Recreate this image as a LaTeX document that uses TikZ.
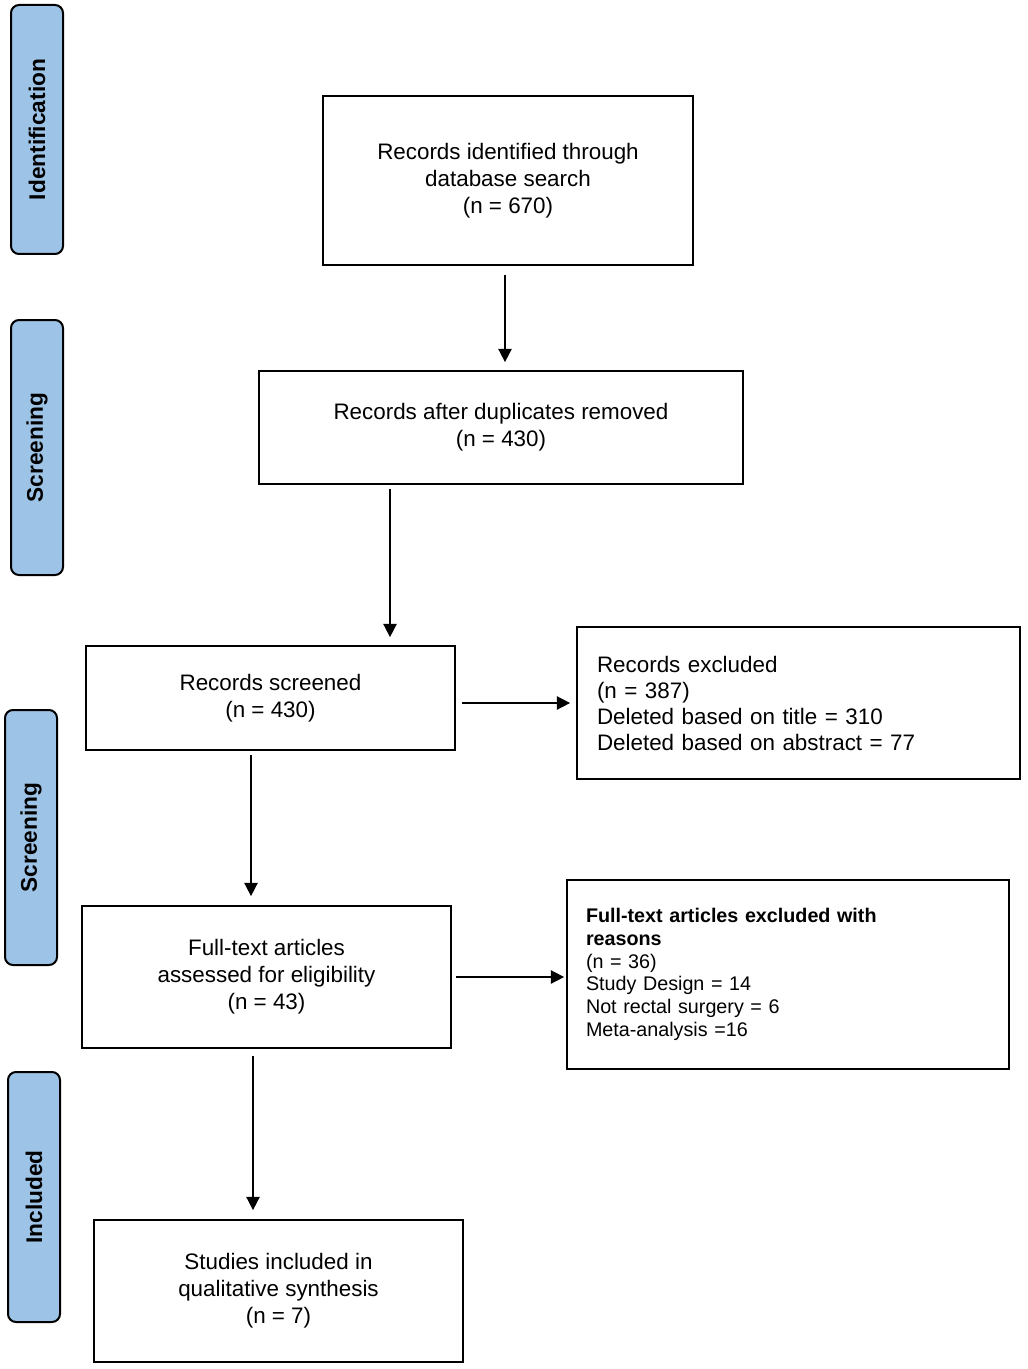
\documentclass[tikz,border=0pt]{standalone}
\usepackage{fontspec}
\setmainfont{Liberation Sans}
\usetikzlibrary{arrows.meta}
\definecolor{sideblue}{HTML}{9DC3E6}
\begin{document}
\begin{tikzpicture}[x=0.75pt,y=-0.75pt,
  box/.style={draw=black,line width=1.3pt,fill=white,align=center,inner sep=0pt,
    font=\fontsize{16.8}{20.2}\selectfont},
  lbox/.style={draw=black,line width=1.3pt,fill=white,align=left,inner ysep=0pt},
  side/.style={draw=black,line width=1.5pt,fill=sideblue,rounded corners=6pt,rotate=90,
    minimum height=39pt,inner sep=0pt,font=\fontsize{17}{20}\selectfont\bfseries},
  arr/.style={-{Triangle[width=10pt,length=10pt]},line width=1.2pt}]
\useasboundingbox (0,0) rectangle (1027,1369);

% side labels
\node[side,minimum width=186.75pt] (sid) at (37,129.5) {Identification};
\node[side,minimum width=191.25pt] (sscr1) at (37,447.5) {Screening};
\node[side,minimum width=191.25pt] (sscr2) at (31,837.5) {Screening};
\node[side,minimum width=187.5pt] (sinc) at (34,1197) {Included};

% main boxes
\node[box,minimum width=277.5pt,minimum height=126.75pt] (b1) at (508,180.5)
  {Records identified through\\database search\\(n = 670)};
\node[box,minimum width=363pt,minimum height=84.75pt] (b2) at (501,427.5)
  {Records after duplicates removed\\(n = 430)};
\node[box,minimum width=276.75pt,minimum height=78pt] (b3) at (270.5,698)
  {Records screened\\(n = 430)};
\node[lbox,text width=302.25pt,inner xsep=15pt,minimum height=114pt,
  font=\fontsize{16.8}{19.5}\selectfont] (b4) at (798.5,703)
  {Records excluded\\(n = 387)\\Deleted based on title = 310\\Deleted based on abstract = 77};
\node[box,minimum width=276.75pt,minimum height=106.5pt] (b5) at (266.5,977)
  {Full-text articles\\assessed for eligibility\\(n = 43)};
\node[lbox,text width=303pt,inner xsep=14.25pt,minimum height=141.75pt,
  font=\fontsize{14.8}{17}\selectfont] (b6) at (788,974.5)
  {\textbf{Full-text articles excluded with}\\\textbf{reasons}\\(n = 36)\\Study Design = 14\\Not rectal surgery = 6\\Meta-analysis =16};
\node[box,minimum width=276.75pt,minimum height=106.5pt] (b7) at (278.5,1291)
  {Studies included in\\qualitative synthesis\\(n = 7)};

% connector x positions
\coordinate (x12) at (505,0);
\coordinate (x23) at (390,0);
\coordinate (x35) at (251,0);
\coordinate (x57) at (253,0);

\draw[arr,shorten <=6.75pt,shorten >=6pt] (b1.south -| x12) -- (b2.north -| x12);
\draw[arr,shorten <=3pt,shorten >=6pt] (b2.south -| x23) -- (b3.north -| x23);
\draw[arr,shorten <=4.5pt,shorten >=4.5pt] (b3.east |- b4.west) -- (b4.west);
\draw[arr,shorten <=3pt,shorten >=6.75pt] (b3.south -| x35) -- (b5.north -| x35);
\draw[arr,shorten <=3pt,shorten >=1.5pt] (b5.east) -- (b6.west |- b5.east);
\draw[arr,shorten <=5.25pt,shorten >=6.75pt] (b5.south -| x57) -- (b7.north -| x57);
\end{tikzpicture}
\end{document}
